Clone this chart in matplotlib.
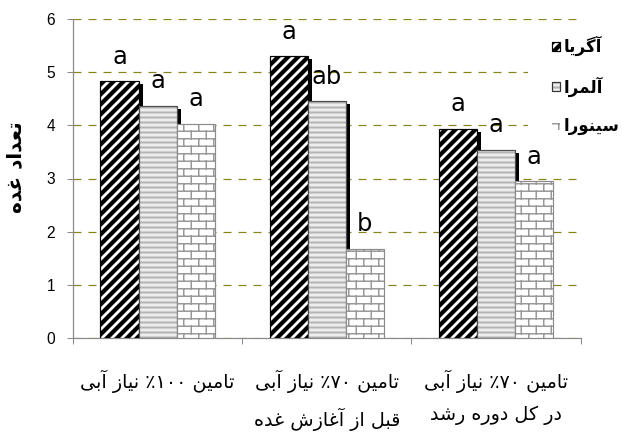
import re
import numpy as np
import matplotlib
matplotlib.use('Agg')
import matplotlib.pyplot as plt
import matplotlib.hatch as mhatch
from matplotlib.path import Path
from matplotlib.patches import Rectangle, Patch
from matplotlib.legend_handler import HandlerBase
from matplotlib import transforms

# ---------------- data ----------------
categories = ['تامین ۱۰۰٪ نیاز آبی',
              'تامین ۷۰٪ نیاز آبی\nقبل از آغازش غده',
              'تامین ۷۰٪ نیاز آبی\nدر کل دوره رشد']
series_names = ['آگریا', 'آلمرا', 'سینورا']
agria = [4.83, 5.30, 3.94]
almera = [4.37, 4.45, 3.54]
sinora = [4.03, 1.68, 2.95]
letters_agria = ['a', 'a', 'a']
letters_almera = ['a', 'ab', 'a']
letters_sinora = ['a', 'b', 'a']
y_label = 'تعداد غده'
y_ticks = [0, 1, 2, 3, 4, 5, 6]

# ---------------- Persian shaping (presentation forms + visual order) ----------------
FORMS = {
    '\u0622': ('\uFE81', '\uFE82', None, None),
    '\u0627': ('\uFE8D', '\uFE8E', None, None),
    '\u0628': ('\uFE8F', '\uFE90', '\uFE91', '\uFE92'),
    '\u062A': ('\uFE95', '\uFE96', '\uFE97', '\uFE98'),
    '\u062F': ('\uFEA9', '\uFEAA', None, None),
    '\u0631': ('\uFEAD', '\uFEAE', None, None),
    '\u0632': ('\uFEAF', '\uFEB0', None, None),
    '\u0633': ('\uFEB1', '\uFEB2', '\uFEB3', '\uFEB4'),
    '\u0634': ('\uFEB5', '\uFEB6', '\uFEB7', '\uFEB8'),
    '\u0639': ('\uFEC9', '\uFECA', '\uFECB', '\uFECC'),
    '\u063A': ('\uFECD', '\uFECE', '\uFECF', '\uFED0'),
    '\u0642': ('\uFED5', '\uFED6', '\uFED7', '\uFED8'),
    '\u0644': ('\uFEDD', '\uFEDE', '\uFEDF', '\uFEE0'),
    '\u0645': ('\uFEE1', '\uFEE2', '\uFEE3', '\uFEE4'),
    '\u0646': ('\uFEE5', '\uFEE6', '\uFEE7', '\uFEE8'),
    '\u0647': ('\uFEE9', '\uFEEA', '\uFEEB', '\uFEEC'),
    '\u0648': ('\uFEED', '\uFEEE', None, None),
    '\u06A9': ('\uFB8E', '\uFB8F', '\uFB90', '\uFB91'),
    '\u06AF': ('\uFB92', '\uFB93', '\uFB94', '\uFB95'),
    '\u06CC': ('\uFBFC', '\uFBFD', '\uFBFE', '\uFBFF'),
}
NORM = {'\u064A': '\u06CC', '\u0649': '\u06CC', '\u0643': '\u06A9'}
for _d in range(10):
    NORM[chr(0x0660 + _d)] = chr(0x06F0 + _d)


def shape(s):
    s = ''.join(NORM.get(c, c) for c in s)
    out = []
    for i, c in enumerate(s):
        if c not in FORMS:
            out.append(c)
            continue
        f = FORMS[c]
        prev = s[i - 1] if i > 0 else ''
        nxt = s[i + 1] if i + 1 < len(s) else ''
        jp = prev in FORMS and FORMS[prev][2] is not None
        jn = f[2] is not None and nxt in FORMS
        if jp and jn:
            out.append(f[3])
        elif jp:
            out.append(f[1])
        elif jn:
            out.append(f[2])
        else:
            out.append(f[0])
    return ''.join(out)


def rtl(s):
    lines = []
    for line in s.split('\n'):
        v = shape(line)[::-1]
        v = re.sub('[\u06F0-\u06F9]+', lambda m: m.group(0)[::-1], v)
        lines.append(v)
    return '\n'.join(lines)


# ---------------- brick hatch (replaces '*') ----------------
class BrickHatch(mhatch.HatchPatternBase):
    def __init__(self, hatch, density):
        self.rows = 16 if hatch.count('*') else 0
        self.cols = 8
        self.num_vertices = (2 * self.rows + 2 * (self.rows + 1) * self.cols) if self.rows else 0

    def set_vertices_and_codes(self, vertices, codes):
        R, C = self.rows, self.cols
        ys = (np.arange(R) + 0.5) / R
        segs = [((0, y), (1, y)) for y in ys]
        for k in range(R):
            off = 0.25 + 0.5 * (k % 2)
            xs = (np.arange(C) + off) / C
            spans = [(ys[k], ys[k + 1])] if k < R - 1 else [(ys[k], 1.0), (0.0, ys[0])]
            for y0, y1 in spans:
                for xx in xs:
                    segs.append(((xx, y0), (xx, y1)))
        vertices[:] = np.array(segs, dtype=float).reshape(-1, 2)
        codes[0::2] = Path.MOVETO
        codes[1::2] = Path.LINETO


mhatch._hatch_types = [BrickHatch if t is mhatch.Stars else t for t in mhatch._hatch_types]

# ---------------- figure ----------------
DPI = 120
PX = 72.0 / DPI  # points per pixel
plt.rcParams['font.family'] = ['DejaVu Sans']
plt.rcParams['lines.scale_dashes'] = False

fig = plt.figure(figsize=(622 / DPI, 434 / DPI), dpi=DPI)
ax = fig.add_axes([73 / 622, 1 - 338 / 434, (580.5 - 73) / 622, (338 - 19) / 434])
ax.set_axisbelow(True)

series = [agria, almera, sinora]
letters = [letters_agria, letters_almera, letters_sinora]
styles = [
    dict(face='black', hatch='////', hcolor='white', hlw=1.7, edge='black', shadow=True, ledge='black'),
    dict(face='#ededed', hatch='----', hcolor='#b4b4b4', hlw=1.2, edge='#4d4d4d', shadow=True, ledge='#333333'),
    dict(face='white', hatch='*', hcolor='#999999', hlw=0.9, edge='#8c8c8c', shadow=False, ledge=None),
]

x = np.arange(len(categories))
w = 0.225
offsets = [-w, 0.0, w]
shadow_tr = transforms.offset_copy(ax.transData, fig=fig, x=4, y=-3, units='dots')


def set_hlw(p, v):
    try:
        p.set_hatch_linewidth(v)
    except AttributeError:
        pass


z = 2
for vals, off, st in zip(series, offsets, styles):
    if st['shadow']:
        sb = ax.bar(x + off, vals, w, color='black', linewidth=0, zorder=z)
        for p in sb:
            p.set_transform(shadow_tr)
    z += 1
    with plt.rc_context({'hatch.linewidth': st['hlw']}):
        hb = ax.bar(x + off, vals, w, facecolor=st['face'], edgecolor=st['hcolor'],
                    linewidth=0, hatch=st['hatch'], zorder=z)
    for p in hb:
        set_hlw(p, st['hlw'])
    z += 1
    ax.bar(x + off, vals, w, fill=False, edgecolor=st['edge'], linewidth=1.2 * PX, zorder=z)
    z += 1

for vals, off, labs in zip(series, offsets, letters):
    for xi, v, l in zip(x, vals, labs):
        ax.text(xi + off, v + 0.33, l, ha='center', va='baseline', fontsize=14.5, zorder=20)

# white box behind legend (covers gridlines)
ax.add_patch(Rectangle((528 / 622, 1 - 150 / 434), 94 / 622, (150 - 26) / 434,
                       transform=fig.transFigure, facecolor='white', edgecolor='none',
                       clip_on=False, zorder=1.5))

# axes styling
axis_gray = '#898989'
for s in ['top', 'right']:
    ax.spines[s].set_visible(False)
for s in ['left', 'bottom']:
    ax.spines[s].set_color(axis_gray)
    ax.spines[s].set_linewidth(1.2 * PX)

ax.set_ylim(0, 6)
ax.set_xlim(-0.5, 2.5)
ax.set_yticks(y_ticks)
ax.tick_params(axis='y', direction='out', length=6 * PX, width=1 * PX, color=axis_gray,
               pad=12 * PX, labelsize=9.3, labelfontfamily='Liberation Sans')
ax.yaxis.grid(True, color='#85851a', linewidth=1.2 * PX, linestyle=(0, (8 * PX, 7 * PX)))
ax.set_xticks(np.arange(len(categories) + 1) - 0.5)
ax.set_xticklabels([])
ax.tick_params(axis='x', which='major', direction='out', length=6 * PX, width=1 * PX, color=axis_gray)
ax.set_xticks(x, [rtl(c) for c in categories], minor=True)
ax.tick_params(axis='x', which='minor', length=0, pad=32 * PX, labelsize=11.5)
for lab in ax.get_xticklabels(minor=True):
    lab.set_linespacing(1.8)

ax.set_ylabel(rtl(y_label), fontsize=12, fontweight='bold')
ax.yaxis.set_label_coords((16 - 73) / 507.5, (338 - 167) / 319)
ax.yaxis.label.set_va('center')


# legend
class BarHandler(HandlerBase):
    def __init__(self, st):
        super().__init__()
        self.st = st

    def create_artists(self, legend, orig_handle, xdescent, ydescent, width, height, fontsize, trans):
        st = self.st
        with plt.rc_context({'hatch.linewidth': st['hlw']}):
            r1 = Rectangle((-xdescent, -ydescent), width, height, facecolor=st['face'],
                           edgecolor=st['hcolor'], linewidth=0, hatch=st['hatch'], transform=trans)
        set_hlw(r1, st['hlw'])
        arts = [r1]
        if st['ledge']:
            r2 = Rectangle((-xdescent, -ydescent), width, height, fill=False,
                           edgecolor=st['ledge'], linewidth=1.2 * PX, transform=trans)
            arts.append(r2)
        return arts


handles = [Patch(label=n) for n in series_names]
hmap = {h: BarHandler(st) for h, st in zip(handles, styles)}
fsz = 10
fpx = fsz / PX
fig.legend(handles, [rtl(n) for n in series_names], handler_map=hmap,
           loc='upper left', bbox_to_anchor=(552 / 622, 1 - 36 / 434),
           frameon=False, borderpad=0, borderaxespad=0,
           prop={'weight': 'bold', 'size': fsz},
           handlelength=8 / fpx, handleheight=8 / fpx, handletextpad=4 / fpx,
           labelspacing=1.22)

fig.savefig('out.png', dpi=DPI)
